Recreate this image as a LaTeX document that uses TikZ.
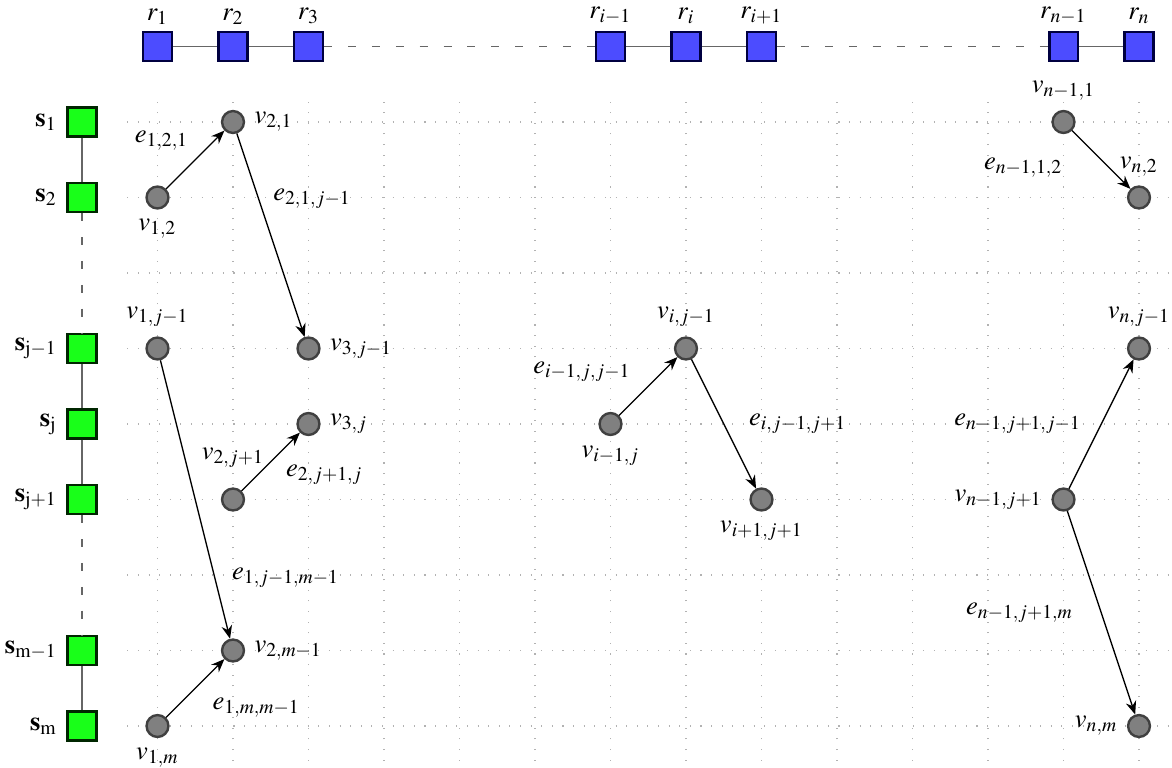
\documentclass[tikz,border=0pt]{standalone}
\usepackage{mathptmx}
\usetikzlibrary{arrows.meta}
\begin{document}
\begin{tikzpicture}[x=1cm,y=1cm,
  rbox/.style={draw=blue!25!black, fill=blue!70, line width=1pt, minimum size=0.38cm, inner sep=0pt, label={[label distance=-1pt]above:#1}},
  sbox/.style={draw=green!15!black, fill=green!90, line width=1pt, minimum size=0.38cm, inner sep=0pt, label={left:#1}},
  vdot/.style={circle, draw=black!75, fill=gray, line width=0.9pt, minimum size=0.29cm, inner sep=0pt},
  link/.style={draw=black!60, line width=0.7pt},
  gaplink/.style={link, dash pattern=on 3pt off 6pt},
  flow/.style={-{Stealth[length=5pt,width=4pt]}, line width=0.5pt},
  gridline/.style={gray!60, dash pattern=on 0.4pt off 3.6pt, line width=0.4pt}
]
\useasboundingbox (-1.086,-0.543) rectangle (14.437,9.616);

% background grid
\draw[gridline] (0.6,-0.6) grid (14.5,8.28);

% resource chain
\node[rbox={$r_1$}] (r1) at (1,9) {};
\node[rbox={$r_2$}] (r2) at (2,9) {};
\node[rbox={$r_3$}] (r3) at (3,9) {};
\node[rbox={$r_{i-1}$}] (rim) at (7,9) {};
\node[rbox={$r_i$}] (ri) at (8,9) {};
\node[rbox={$r_{i+1}$}] (rip) at (9,9) {};
\node[rbox={$r_{n-1}$}] (rnm) at (13,9) {};
\node[rbox={$r_n$}] (rn) at (14,9) {};
\draw[link] (r1) -- (r2) (r2) -- (r3) (rim) -- (ri) (ri) -- (rip) (rnm) -- (rn);
\draw[gaplink] (r3) -- (rim) (rip) -- (rnm);

% slot chain
\node[sbox={$\mathbf{s}_1$}] (s1) at (0,8) {};
\node[sbox={$\mathbf{s}_2$}] (s2) at (0,7) {};
\node[sbox={$\mathbf{s}_{\mathrm{j-1}}$}] (sjm) at (0,5) {};
\node[sbox={$\mathbf{s}_{\mathrm{j}}$}] (sj) at (0,4) {};
\node[sbox={$\mathbf{s}_{\mathrm{j+1}}$}] (sjp) at (0,3) {};
\node[sbox={$\mathbf{s}_{\mathrm{m-1}}$}] (smm) at (0,1) {};
\node[sbox={$\mathbf{s}_{\mathrm{m}}$}] (sm) at (0,0) {};
\draw[link] (s1) -- (s2) (sjm) -- (sj) (sj) -- (sjp) (smm) -- (sm);
\draw[gaplink] (s2) -- (sjm) (sjp) -- (smm);

% vertices
\node[vdot, label={below:$v_{1,2}$}] (v12) at (1,7) {};
\node[vdot, label={right:$v_{2,1}$}] (v21) at (2,8) {};
\node[vdot, label={right:$v_{3,j-1}$}] (v3jm) at (3,5) {};
\node[vdot, label={above:$v_{1,j-1}$}] (v1jm) at (1,5) {};
\node[vdot, label={right:$v_{3,j}$}] (v3j) at (3,4) {};
\node[vdot, label={[label distance=4pt]above:$v_{2,j+1}$}] (v2jp) at (2,3) {};
\node[vdot, label={right:$v_{2,m-1}$}] (v2mm) at (2,1) {};
\node[vdot, label={below:$v_{1,m}$}] (v1m) at (1,0) {};
\node[vdot, label={above:$v_{i,j-1}$}] (vijm) at (8,5) {};
\node[vdot, label={below:$v_{i-1,j}$}] (vimj) at (7,4) {};
\node[vdot, label={below:$v_{i+1,j+1}$}] (vipjp) at (9,3) {};
\node[vdot, label={above:$v_{n-1,1}$}] (vnm1) at (13,8) {};
\node[vdot, label={above:$v_{n,2}$}] (vn2) at (14,7) {};
\node[vdot, label={above:$v_{n,j-1}$}] (vnjm) at (14,5) {};
\node[vdot, label={left:$v_{n-1,j+1}$}] (vnmjp) at (13,3) {};
\node[vdot, label={left:$v_{n,m}$}] (vnm) at (14,0) {};

% edges
\draw[flow] (v12) -- node[midway, above left, xshift=1pt] {$e_{1,2,1}$} (v21);
\draw[flow] (v21) -- node[pos=0.32, right=2pt] {$e_{2,1,j-1}$} (v3jm);
\draw[flow] (v1jm) -- node[pos=0.78, right=3pt] {$e_{1,j-1,m-1}$} (v2mm);
\draw[flow] (v1m) -- node[midway, below right, xshift=3pt] {$e_{1,m,m-1}$} (v2mm);
\draw[flow] (v2jp) -- node[pos=0.6, below right] {$e_{2,j+1,j}$} (v3j);
\draw[flow] (vimj) -- node[midway, above left, xshift=-3pt, yshift=-2pt] {$e_{i-1,j,j-1}$} (vijm);
\draw[flow] (vijm) -- node[midway, right=6pt] {$e_{i,j-1,j+1}$} (vipjp);
\draw[flow] (vnm1) -- node[midway, left=11pt, yshift=-3pt] {$e_{n-1,1,2}$} (vn2);
\draw[flow] (vnmjp) -- node[midway, left=4pt] {$e_{n-1,j+1,j-1}$} (vnjm);
\draw[flow] (vnmjp) -- node[midway, left=7pt] {$e_{n-1,j+1,m}$} (vnm);
\end{tikzpicture}
\end{document}
